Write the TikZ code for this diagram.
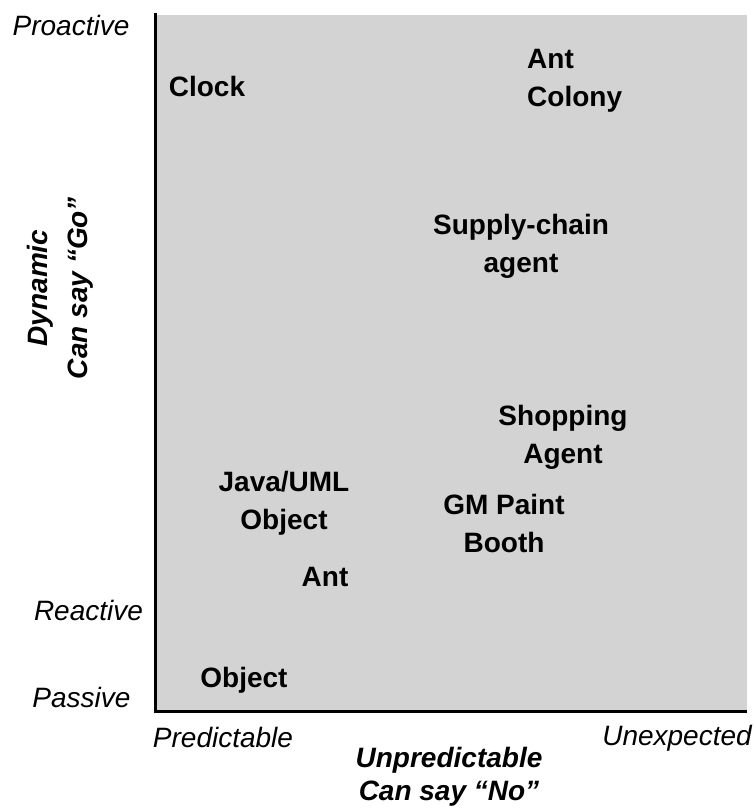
\documentclass[tikz,border=0pt]{standalone}
\usepackage{fontspec}
\setmainfont{Liberation Sans}
\definecolor{panel}{RGB}{211,211,211}
\begin{document}
\begin{tikzpicture}[x=1pt,y=-1pt,
  lbl/.style={inner sep=0pt, font=\fontsize{28}{38}\selectfont\bfseries, align=center, anchor=north},
  axl/.style={inner sep=0pt, font=\fontsize{28}{38}\selectfont\itshape, anchor=north},
  axt/.style={inner sep=0pt, font=\fontsize{28}{33}\selectfont\bfseries\itshape, align=center, anchor=north}]
\useasboundingbox (0,0) rectangle (754,808);
\fill[panel] (155,15) rectangle (747,711);
\coordinate (o) at (155,711);
\coordinate (ytop) at (155,13);
\coordinate (xend) at (747,711);
\draw[line width=3pt] (ytop) -- (o) -- (xend);
% axis labels
\node[axl] (proactive) at (71,15) {Proactive};
\node[axl] (reactive) at (88.5,600) {Reactive};
\node[axl] (passive) at (81.5,687) {Passive};
\node[axl] (predictable) at (223,727) {Predictable};
\node[axl] (unexpected) at (677,725) {Unexpected};
\node[axt] (xtitle) at (449,747) {Unpredictable\\Can say “No”};
\node[axt, rotate=90, font=\fontsize{28}{40}\selectfont\bfseries\itshape] (ytitle) at (27,288) {Dynamic\\Can say “Go”};
% items
\node[lbl] (clock) at (207,76) {Clock};
\node[lbl, anchor=north west, align=left] (antcol) at (527,49) {Ant\\Colony};
\node[lbl] (supply) at (521,214) {Supply-chain\\agent};
\node[lbl] (shop) at (563,405) {Shopping\\Agent};
\node[lbl] (java) at (284,471) {Java/UML\\Object};
\node[lbl] (gm) at (504,494) {GM Paint\\Booth};
\node[lbl] (ant) at (325,567) {Ant};
\node[lbl] (object) at (244,667) {Object};
\end{tikzpicture}
\end{document}
